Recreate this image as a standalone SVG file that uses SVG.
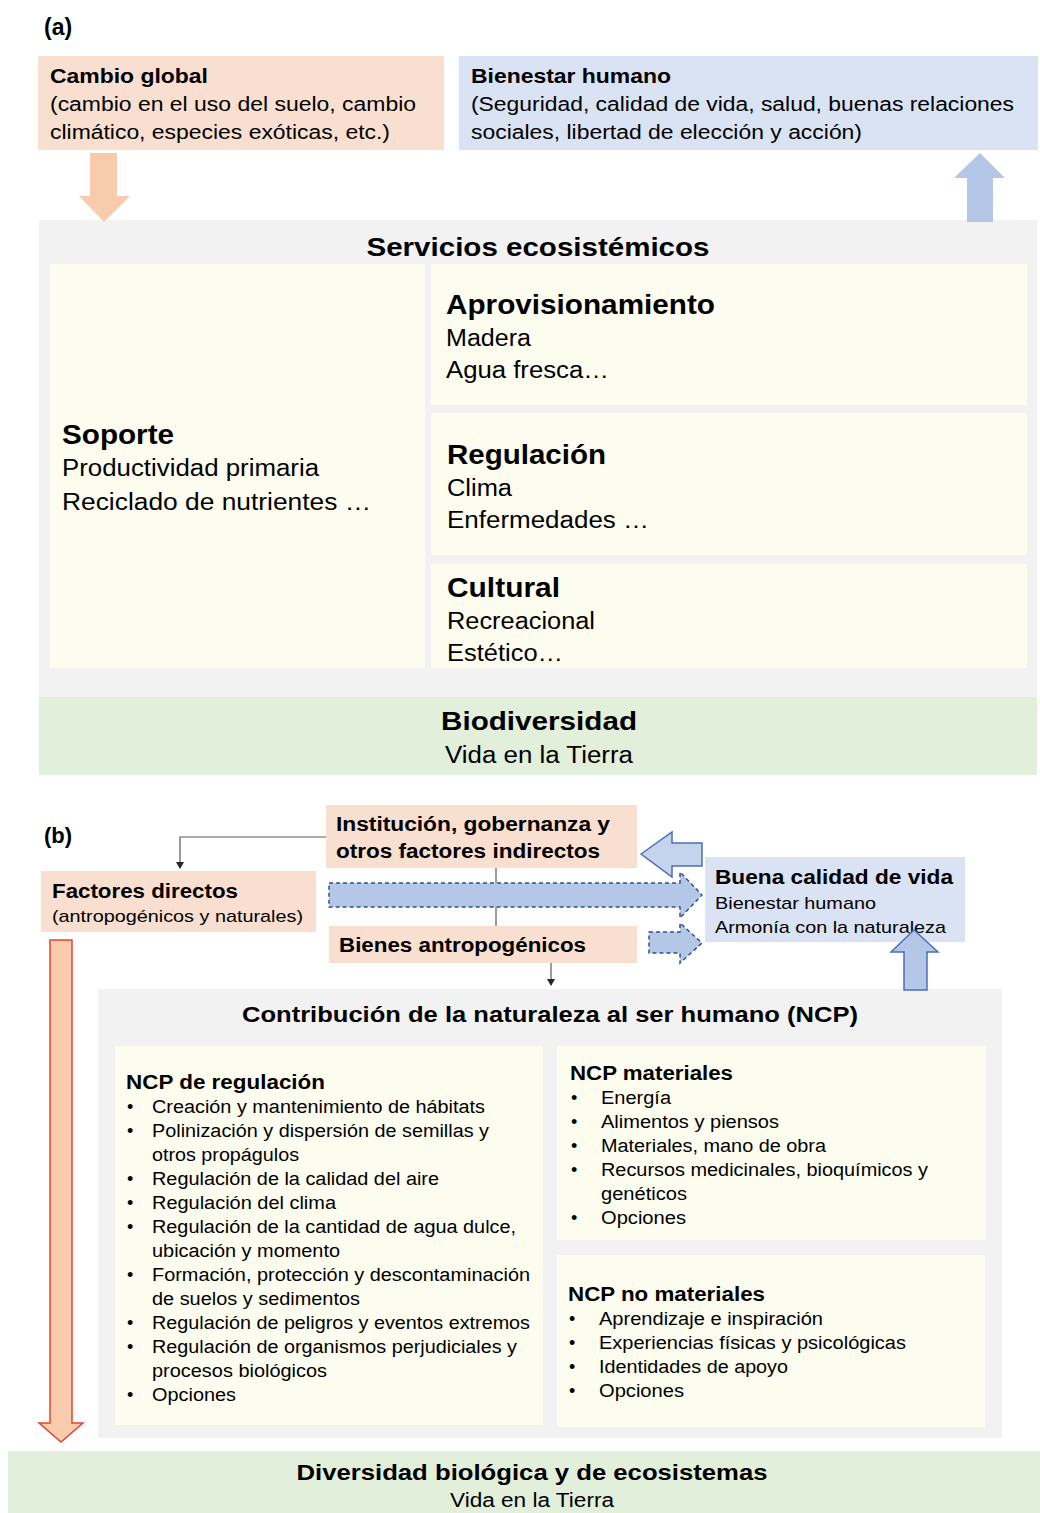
<svg xmlns="http://www.w3.org/2000/svg" width="1040" height="1513" viewBox="0 0 1040 1513">
  <style>
    text { font-family: "Liberation Sans", Arial, sans-serif; fill: #000; }
    .b { font-weight: bold; }
    .peach { fill: #f9dfcf; }
    .blue { fill: #dae3f3; }
    .gray { fill: #f2f2f2; }
    .cream { fill: #fdfdef; }
    .green { fill: #e2efda; }
    .conn { stroke: #595959; stroke-width: 1.2; fill: none; }
    .dash { fill: #b4c7e7; stroke: #2f528f; stroke-width: 1.5; stroke-dasharray: 4 3; }
  </style>
  <defs>
    <marker id="tri" markerWidth="8" markerHeight="8" refX="6" refY="4" orient="auto" markerUnits="userSpaceOnUse">
      <path d="M0,0 L7,4 L0,8 Z" fill="#262626"/>
    </marker>
  </defs>
  <rect width="1040" height="1513" fill="#ffffff"/>

  <!-- ===== Panel (a) ===== -->
  <text class="b" x="44" y="35" font-size="23">(a)</text>

  <g id="cambio-global">
    <rect class="peach" x="38" y="56" width="406" height="94"/>
    <text class="b" x="50" y="83" font-size="20" textLength="158" lengthAdjust="spacingAndGlyphs">Cambio global</text>
    <text x="50" y="111" font-size="20" textLength="366" lengthAdjust="spacingAndGlyphs">(cambio en el uso del suelo, cambio</text>
    <text x="50" y="139" font-size="20" textLength="340" lengthAdjust="spacingAndGlyphs">climático, especies exóticas, etc.)</text>
  </g>

  <g id="bienestar-humano">
    <rect class="blue" x="459" y="56" width="579" height="94"/>
    <text class="b" x="471" y="83" font-size="20" textLength="200" lengthAdjust="spacingAndGlyphs">Bienestar humano</text>
    <text x="471" y="111" font-size="20" textLength="543" lengthAdjust="spacingAndGlyphs">(Seguridad, calidad de vida, salud, buenas relaciones</text>
    <text x="471" y="139" font-size="20" textLength="391" lengthAdjust="spacingAndGlyphs">sociales, libertad de elección y acción)</text>
  </g>

  <g id="servicios-ecosistemicos">
    <rect class="gray" x="39" y="220" width="998" height="478"/>
    <text class="b" x="538" y="256" font-size="26" text-anchor="middle" textLength="343" lengthAdjust="spacingAndGlyphs">Servicios ecosistémicos</text>
  </g>

  <g id="soporte">
    <rect class="cream" x="50" y="264" width="375" height="404"/>
    <text class="b" x="62" y="444" font-size="27" textLength="112" lengthAdjust="spacingAndGlyphs">Soporte</text>
    <text x="62" y="476" font-size="23" textLength="257" lengthAdjust="spacingAndGlyphs">Productividad primaria</text>
    <text x="62" y="510" font-size="23" textLength="309" lengthAdjust="spacingAndGlyphs">Reciclado de nutrientes …</text>
  </g>

  <g id="aprovisionamiento">
    <rect class="cream" x="431" y="264" width="596" height="141"/>
    <text class="b" x="446" y="314" font-size="28" textLength="269" lengthAdjust="spacingAndGlyphs">Aprovisionamiento</text>
    <text x="446" y="346" font-size="23" textLength="85" lengthAdjust="spacingAndGlyphs">Madera</text>
    <text x="446" y="378" font-size="23" textLength="163" lengthAdjust="spacingAndGlyphs">Agua fresca…</text>
  </g>

  <g id="regulacion">
    <rect class="cream" x="431" y="413" width="596" height="142"/>
    <text class="b" x="447" y="464" font-size="27" textLength="159" lengthAdjust="spacingAndGlyphs">Regulación</text>
    <text x="447" y="496" font-size="23" textLength="65" lengthAdjust="spacingAndGlyphs">Clima</text>
    <text x="447" y="528" font-size="23" textLength="202" lengthAdjust="spacingAndGlyphs">Enfermedades …</text>
  </g>

  <g id="cultural">
    <rect class="cream" x="431" y="564" width="596" height="104"/>
    <text class="b" x="447" y="597" font-size="27" textLength="113" lengthAdjust="spacingAndGlyphs">Cultural</text>
    <text x="447" y="629" font-size="23" textLength="148" lengthAdjust="spacingAndGlyphs">Recreacional</text>
    <text x="447" y="661" font-size="23" textLength="116" lengthAdjust="spacingAndGlyphs">Estético…</text>
  </g>

  <g id="biodiversidad">
    <rect class="green" x="39" y="697" width="998" height="78"/>
    <text class="b" x="539" y="730" font-size="26" text-anchor="middle" textLength="196" lengthAdjust="spacingAndGlyphs">Biodiversidad</text>
    <text x="539" y="763" font-size="23" text-anchor="middle" textLength="188" lengthAdjust="spacingAndGlyphs">Vida en la Tierra</text>
  </g>

  <!-- ===== Panel (b) ===== -->
  <text class="b" x="44" y="843" font-size="22">(b)</text>

  <g id="institucion">
    <rect class="peach" x="326" y="805" width="311" height="63"/>
    <text class="b" x="336" y="831" font-size="20" textLength="274" lengthAdjust="spacingAndGlyphs">Institución, gobernanza y</text>
    <text class="b" x="336" y="858" font-size="20" textLength="264" lengthAdjust="spacingAndGlyphs">otros factores indirectos</text>
  </g>

  <g id="factores-directos">
    <rect class="peach" x="41" y="871" width="275" height="61"/>
    <text class="b" x="52" y="898" font-size="20" textLength="186" lengthAdjust="spacingAndGlyphs">Factores directos</text>
    <text x="52" y="922" font-size="17" textLength="251" lengthAdjust="spacingAndGlyphs">(antropogénicos y naturales)</text>
  </g>

  <g id="bienes-antropogenicos">
    <rect class="peach" x="329" y="926" width="308" height="37"/>
    <text class="b" x="339" y="952" font-size="20" textLength="247" lengthAdjust="spacingAndGlyphs">Bienes antropogénicos</text>
  </g>

  <g id="buena-calidad-de-vida">
    <rect class="blue" x="705" y="857" width="260" height="85"/>
    <text class="b" x="715" y="884" font-size="21" textLength="238" lengthAdjust="spacingAndGlyphs">Buena calidad de vida</text>
    <text x="715" y="909" font-size="17" textLength="161" lengthAdjust="spacingAndGlyphs">Bienestar humano</text>
    <text x="715" y="933" font-size="17" textLength="231" lengthAdjust="spacingAndGlyphs">Armonía con la naturaleza</text>
  </g>

  <g id="contribucion-ncp">
    <rect class="gray" x="98" y="989" width="904" height="449"/>
    <text class="b" x="550" y="1022" font-size="22" text-anchor="middle" textLength="616" lengthAdjust="spacingAndGlyphs">Contribución de la naturaleza al ser humano (NCP)</text>
  </g>

  <g id="ncp-regulacion" font-size="18">
    <rect class="cream" x="115" y="1046" width="428" height="379"/>
    <text class="b" x="126" y="1089" font-size="20" textLength="199" lengthAdjust="spacingAndGlyphs">NCP de regulación</text>
    <text x="127" y="1113">•</text>
    <text x="152" y="1113" textLength="333" lengthAdjust="spacingAndGlyphs">Creación y mantenimiento de hábitats</text>
    <text x="127" y="1137">•</text>
    <text x="152" y="1137" textLength="337" lengthAdjust="spacingAndGlyphs">Polinización y dispersión de semillas y</text>
    <text x="152" y="1161" textLength="147" lengthAdjust="spacingAndGlyphs">otros propágulos</text>
    <text x="127" y="1185">•</text>
    <text x="152" y="1185" textLength="287" lengthAdjust="spacingAndGlyphs">Regulación de la calidad del aire</text>
    <text x="127" y="1209">•</text>
    <text x="152" y="1209" textLength="184" lengthAdjust="spacingAndGlyphs">Regulación del clima</text>
    <text x="127" y="1233">•</text>
    <text x="152" y="1233" textLength="364" lengthAdjust="spacingAndGlyphs">Regulación de la cantidad de agua dulce,</text>
    <text x="152" y="1257" textLength="188" lengthAdjust="spacingAndGlyphs">ubicación y momento</text>
    <text x="127" y="1281">•</text>
    <text x="152" y="1281" textLength="378" lengthAdjust="spacingAndGlyphs">Formación, protección y descontaminación</text>
    <text x="152" y="1305" textLength="208" lengthAdjust="spacingAndGlyphs">de suelos y sedimentos</text>
    <text x="127" y="1329">•</text>
    <text x="152" y="1329" textLength="378" lengthAdjust="spacingAndGlyphs">Regulación de peligros y eventos extremos</text>
    <text x="127" y="1353">•</text>
    <text x="152" y="1353" textLength="365" lengthAdjust="spacingAndGlyphs">Regulación de organismos perjudiciales y</text>
    <text x="152" y="1377" textLength="175" lengthAdjust="spacingAndGlyphs">procesos biológicos</text>
    <text x="127" y="1401">•</text>
    <text x="152" y="1401" textLength="84" lengthAdjust="spacingAndGlyphs">Opciones</text>
  </g>

  <g id="ncp-materiales" font-size="18">
    <rect class="cream" x="557" y="1046" width="429" height="194"/>
    <text class="b" x="570" y="1080" font-size="20" textLength="163" lengthAdjust="spacingAndGlyphs">NCP materiales</text>
    <text x="571" y="1104">•</text>
    <text x="601" y="1104" textLength="70" lengthAdjust="spacingAndGlyphs">Energía</text>
    <text x="571" y="1128">•</text>
    <text x="601" y="1128" textLength="178" lengthAdjust="spacingAndGlyphs">Alimentos y piensos</text>
    <text x="571" y="1152">•</text>
    <text x="601" y="1152" textLength="225" lengthAdjust="spacingAndGlyphs">Materiales, mano de obra</text>
    <text x="571" y="1176">•</text>
    <text x="601" y="1176" textLength="327" lengthAdjust="spacingAndGlyphs">Recursos medicinales, bioquímicos y</text>
    <text x="601" y="1200" textLength="86" lengthAdjust="spacingAndGlyphs">genéticos</text>
    <text x="571" y="1224">•</text>
    <text x="601" y="1224" textLength="85" lengthAdjust="spacingAndGlyphs">Opciones</text>
  </g>

  <g id="ncp-no-materiales" font-size="18">
    <rect class="cream" x="557" y="1255" width="428" height="172"/>
    <text class="b" x="568" y="1301" font-size="20" textLength="197" lengthAdjust="spacingAndGlyphs">NCP no materiales</text>
    <text x="569" y="1325">•</text>
    <text x="599" y="1325" textLength="224" lengthAdjust="spacingAndGlyphs">Aprendizaje e inspiración</text>
    <text x="569" y="1349">•</text>
    <text x="599" y="1349" textLength="307" lengthAdjust="spacingAndGlyphs">Experiencias físicas y psicológicas</text>
    <text x="569" y="1373">•</text>
    <text x="599" y="1373" textLength="189" lengthAdjust="spacingAndGlyphs">Identidades de apoyo</text>
    <text x="569" y="1397">•</text>
    <text x="599" y="1397" textLength="85" lengthAdjust="spacingAndGlyphs">Opciones</text>
  </g>

  <g id="diversidad-biologica">
    <rect class="green" x="8" y="1451" width="1032" height="62"/>
    <text class="b" x="532" y="1480" font-size="22" text-anchor="middle" textLength="471" lengthAdjust="spacingAndGlyphs">Diversidad biológica y de ecosistemas</text>
    <text x="532" y="1507" font-size="20" text-anchor="middle" textLength="164" lengthAdjust="spacingAndGlyphs">Vida en la Tierra</text>
  </g>

  <!-- ===== Connectors and block arrows ===== -->
  <g id="connectors">
    <!-- panel (a) -->
    <path d="M90,153 H117 V196 H130 L104,222 L79,196 H90 Z" fill="#f8cbad"/>
    <path d="M980,153 L1005,178 H993 V222 H967 V178 H954 Z" fill="#b4c7e7"/>

    <!-- panel (b) thin connectors -->
    <polyline class="conn" points="326,837 180,837 180,868" marker-end="url(#tri)"/>
    <line class="conn" x1="496" y1="868" x2="496" y2="926"/>
    <line class="conn" x1="551" y1="963" x2="551" y2="985" marker-end="url(#tri)"/>

    <!-- dashed block arrows toward quality of life -->
    <path class="dash" d="M329,883 H680 V872 L702,895 L680,918 V907 H329 Z"/>
    <path class="dash" d="M649,932 H680 V923 L702,943 L680,963 V953 H649 Z"/>

    <!-- feedback arrow to institutions -->
    <path d="M641,854 L672,832 V843 H702 V866 H672 V877 Z" fill="#c5d4ed" stroke="#4a6fb5" stroke-width="1.5"/>

    <!-- upward arrow into quality of life -->
    <path d="M914,930 L938,952 H927 V990 H904 V952 H891 Z" fill="#b4c7e7" stroke="#4a6fb5" stroke-width="1.5"/>

    <!-- direct drivers down to biodiversity -->
    <path d="M50,940 H72 V1423 H83 L61,1442 L39,1423 H50 Z" fill="#f8cbad" stroke="#e0452f" stroke-width="1.5"/>
  </g>
</svg>
